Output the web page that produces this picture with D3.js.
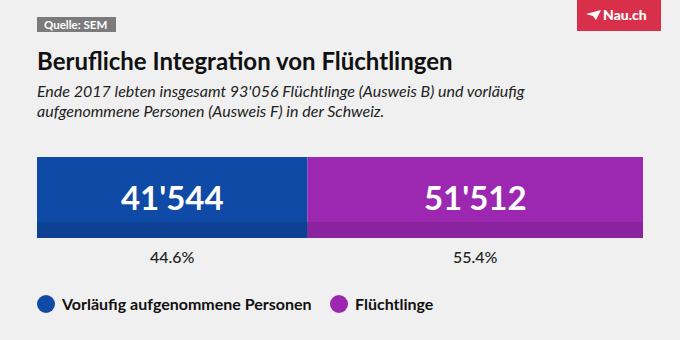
<!DOCTYPE html>
<html>
<head>
<meta charset="utf-8">
<script src="https://cdnjs.cloudflare.com/ajax/libs/d3/7.8.5/d3.min.js"></script>
<style>
  body { margin: 0; background: #f0f0f0; }
  svg { display: block; font-family: Lato, "Open Sans", sans-serif; }
</style>
</head>
<body>
<div id="chart"></div>
<script>
const categories = ['Vorläufig aufgenommene Personen', 'Flüchtlinge'];
const values = [41544, 51512];
const percentLabels = ['44.6%', '55.4%'];
const colors = ['#0f4aa6', '#9c27b1'];
const darkColors = ['#0d4193', '#8a239f'];

const width = 680, height = 340;
const svg = d3.select('#chart').append('svg')
  .attr('width', width).attr('height', height);

svg.append('rect').attr('width', width).attr('height', height).attr('fill', '#f0f0f0');

// Quelle tag
svg.append('rect').attr('x', 37).attr('y', 17).attr('width', 79).attr('height', 15).attr('fill', '#7b7b7b');
svg.append('text').attr('x', 44).attr('y', 28.5).attr('fill', '#fff')
  .attr('font-size', 11.5).attr('font-weight', 700).text('Quelle: SEM');

// logo
svg.append('rect').attr('x', 577).attr('y', 0).attr('width', 84).attr('height', 31).attr('fill', '#d8304a');
svg.append('path').attr('d', 'M586,14 L601,10 L596,20 L593,16 Z').attr('fill', '#fff');
svg.append('text').attr('x', 603).attr('y', 20).attr('fill', '#fff')
  .attr('font-size', 14).attr('font-weight', 900).text('Nau.ch');

// title + subtitle
svg.append('text').attr('x', 37).attr('y', 70).attr('fill', '#111')
  .attr('font-size', 24).attr('font-weight', 700).text('Berufliche Integration von Flüchtlingen');
const sub = svg.append('text').attr('fill', '#222').attr('font-size', 16).attr('font-style', 'italic');
sub.append('tspan').attr('x', 37).attr('y', 97)
  .text("Ende 2017 lebten insgesamt 93'056 Flüchtlinge (Ausweis B) und vorläufig");
sub.append('tspan').attr('x', 37).attr('y', 117)
  .text('aufgenommene Personen (Ausweis F) in der Schweiz.');

// stacked bar
const total = d3.sum(values);
const x = d3.scaleLinear().domain([0, total]).range([37, 643]);
const stack = values.map((v, i) => ({ v, i, x0: d3.sum(values.slice(0, i)) }));
const barTop = 157, barH = 81, bandH = 16;

const fmt = d => d3.format(',')(d).replace(/,/g, "'");

const g = svg.append('g');
g.selectAll('rect.main').data(stack).join('rect')
  .attr('x', d => x(d.x0)).attr('y', barTop)
  .attr('width', d => x(d.x0 + d.v) - x(d.x0)).attr('height', barH)
  .attr('fill', d => colors[d.i]);
g.selectAll('rect.band').data(stack).join('rect')
  .attr('x', d => x(d.x0)).attr('y', barTop + barH - bandH)
  .attr('width', d => x(d.x0 + d.v) - x(d.x0)).attr('height', bandH)
  .attr('fill', d => darkColors[d.i]);
g.selectAll('text.val').data(stack).join('text')
  .attr('x', d => x(d.x0 + d.v / 2)).attr('y', 210)
  .attr('text-anchor', 'middle').attr('fill', '#fff')
  .attr('font-size', 33).attr('font-weight', 700)
  .text(d => fmt(d.v));
g.selectAll('text.pct').data(stack).join('text')
  .attr('x', d => x(d.x0 + d.v / 2)).attr('y', 263)
  .attr('text-anchor', 'middle').attr('fill', '#222')
  .attr('font-size', 16).attr('font-weight', 500)
  .text(d => percentLabels[d.i]);

// legend
const legX = [46, 339];
const leg = svg.append('g').selectAll('g').data(categories).join('g')
  .attr('transform', (d, i) => `translate(${legX[i]},304)`);
leg.append('circle').attr('r', 9).attr('fill', (d, i) => colors[i]);
leg.append('text').attr('x', 16).attr('y', 6).attr('fill', '#111')
  .attr('font-size', 16).attr('font-weight', 700).text(d => d);
</script>
</body>
</html>
